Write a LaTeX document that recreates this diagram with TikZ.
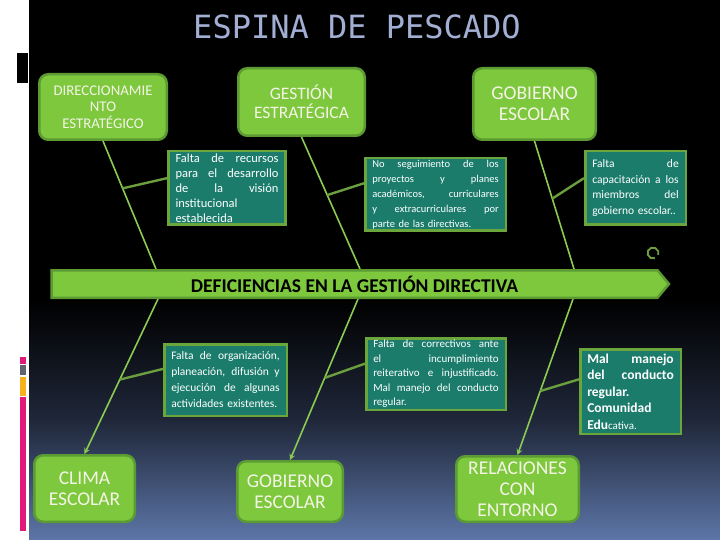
\documentclass[tikz,border=0pt]{standalone}
\usepackage{fontspec}
\setmainfont{Carlito}
\newfontfamily\titlemono{DejaVu Sans Mono}
\usetikzlibrary{calc,positioning,arrows,shapes.symbols}
\setlength{\parindent}{0pt}
\definecolor{causefill}{HTML}{7DC83C}
\definecolor{causeedge}{HTML}{5C9A34}
\definecolor{causetext}{HTML}{F4F4E6}
\definecolor{detailfill}{HTML}{1B7C6C}
\definecolor{detailedge}{HTML}{6AA63C}
\definecolor{bonegreen}{HTML}{8CCB52}
\definecolor{twiggreen}{HTML}{6B9E3E}
\definecolor{titleblue}{HTML}{A3AED3}
\definecolor{slidemid}{HTML}{1F2739}
\definecolor{slideblue}{HTML}{5D76A8}
\definecolor{barpink}{HTML}{E0197A}
\definecolor{bargray}{HTML}{5F6670}
\definecolor{barorange}{HTML}{F5B21C}
% one justified line inside a box
\newcommand{\jrow}[1]{\makebox[\hsize][s]{\spaceskip=0.25em plus 1fil\relax #1}\\}
\tikzstyle{cause} = [rectangle, rounded corners=9pt, draw=causeedge, line width=2.5pt, fill=causefill, text=causetext, align=center, inner sep=2pt, font=\fontsize{19.5}{21}\selectfont]
\tikzstyle{detail} = [rectangle, draw=detailedge, line width=2.5pt, fill=detailfill, text=white, align=left, inner xsep=7pt, inner ysep=1pt]
\tikzstyle{bone} = [line width=1.6pt, draw=bonegreen]
\tikzstyle{twig} = [line width=2.4pt, draw=twiggreen]
\tikzstyle{arrow} = [bone,->,>=stealth]

\begin{document}
\begin{tikzpicture}[x=1pt,y=-1pt]
\useasboundingbox (0,0) rectangle (720,540);
% slide background
\fill[white] (0,0) rectangle (720,540);
\fill[black] (29,0) rectangle (720,300);
\shade[top color=black, bottom color=slidemid] (29,300) rectangle (720,420);
\shade[top color=slidemid, bottom color=slideblue] (29,420) rectangle (720,540);
\fill[black] (17,53) rectangle (28,83);
\fill[barpink] (20,357) rectangle (26,364);
\fill[bargray] (20,365) rectangle (26,375);
\fill[barorange] (20,377) rectangle (26,396);
\fill[barpink] (20,397) rectangle (26,531);

\node (title) [text=titleblue, font=\titlemono\fontsize{32}{34}\selectfont] at (357,27) {ESPINA DE PESCADO};

% causes
\node (dir) [cause, minimum width=127.5pt, minimum height=65.5pt, font=\fontsize{14.8}{16.5}\selectfont] at (103,107) {DIRECCIONAMIE\\NTO\\ESTRATÉGICO};
\node (gest) [cause, minimum width=126.5pt, minimum height=67.5pt, font=\fontsize{17.5}{19}\selectfont] at (301.5,102) {GESTIÓN\\ESTRATÉGICA};
\node (gobtop) [cause, minimum width=122.5pt, minimum height=71.5pt] at (534.5,104) {GOBIERNO\\ESCOLAR};
\node (clima) [cause, minimum width=100.5pt, minimum height=66.5pt] at (84.5,488.5) {CLIMA\\ESCOLAR};
\node (gobbot) [cause, minimum width=105.5pt, minimum height=60.5pt] at (290,491.5) {GOBIERNO\\ESCOLAR};
\node (entorno) [cause, minimum width=122.5pt, minimum height=65.5pt] at (517.5,489) {RELACIONES\\CON\\ENTORNO};

% details
\node (recursos) [detail, text width=103pt, minimum height=73.5pt, font=\fontsize{12.5}{15}\selectfont] at (227,188) {\jrow{Falta de recursos}\jrow{para el desarrollo}\jrow{de la visión}institucional\\establecida};
\node (seguim) [detail, text width=126.5pt, minimum height=72.5pt, font=\fontsize{10.5}{15}\selectfont] at (435.5,194.5) {\jrow{No seguimiento de los}\jrow{proyectos y planes}\jrow{académicos, curriculares}\jrow{y extracurriculares por}parte de las directivas.};
\node (capac) [detail, text width=86.5pt, minimum height=73.5pt, font=\fontsize{11.5}{15.5}\selectfont] at (635.5,188) {\jrow{Falta de}\jrow{capacitación a los}\jrow{miembros del}gobierno escolar..};
\node (organiz) [detail, text width=108.5pt, minimum height=71.5pt, font=\fontsize{11.5}{16}\selectfont] at (225.5,380) {\jrow{Falta de organización,}\jrow{planeación, difusión y}\jrow{ejecución de algunas}actividades existentes.};
\node (correct) [detail, text width=125.5pt, minimum height=71.5pt, font=\fontsize{11}{14.5}\selectfont] at (436,374) {\jrow{Falta de correctivos ante}\jrow{el incumplimiento}\jrow{reiterativo e injustificado.}\jrow{Mal manejo del conducto}regular.};
\node (manejo) [detail, text width=86.5pt, minimum height=84.5pt, font=\bfseries\fontsize{13.5}{16.5}\selectfont] at (630.5,391.5) {\jrow{Mal manejo}\jrow{del conducto}regular.\\Comunidad\\Edu{\mdseries\fontsize{11}{16.5}\selectfont cativa.}};

% spine points
\coordinate (t1) at (156,269);
\coordinate (t2) at (360,269);
\coordinate (t3) at (574,269);
\coordinate (b1) at (158,299);
\coordinate (b2) at (358,299);
\coordinate (b3) at (573,299);

\draw [bone] (dir.south) -- (t1);
\draw [bone] (gest.south) -- (t2);
\draw [bone] (gobtop.south) -- (t3);
\draw [arrow] (b1) -- (clima.north);
\draw [arrow] (b2) -- (gobbot.north);
\draw [arrow] (b3) -- (entorno.north);

\draw [twig] ($(dir.south)!0.37!(t1)$) -- ($(recursos.north west)!0.37!(recursos.south west)$);
\draw [twig] ($(gest.south)!0.44!(t2)$) -- ($(seguim.north west)!0.35!(seguim.south west)$);
\draw [twig] ($(gobtop.south)!0.45!(t3)$) -- ($(capac.north west)!0.37!(capac.south west)$);
\draw [twig] ($(b1)!0.52!(clima.north)$) -- ($(organiz.north west)!0.35!(organiz.south west)$);
\draw [twig] ($(b2)!0.49!(gobbot.north)$) -- ($(correct.north west)!0.36!(correct.south west)$);
\draw [twig] ($(b3)!0.59!(entorno.north)$) -- ($(manejo.north west)!0.36!(manejo.south west)$);

\node (spine) [signal, signal to=east, signal pointer angle=100, draw=causeedge, line width=2.5pt, fill=causefill, minimum width=617.5pt, minimum height=27.5pt, inner sep=0pt, anchor=west, font=\bfseries\fontsize{19.5}{20}\selectfont] at (50.25,284) {DEFICIENCIAS EN LA GESTIÓN DIRECTIVA};

\draw [twiggreen, line width=1.8pt] (653,253) ++(70:5.5) arc [start angle=70, end angle=380, radius=5.5];
\end{tikzpicture}
\end{document}
